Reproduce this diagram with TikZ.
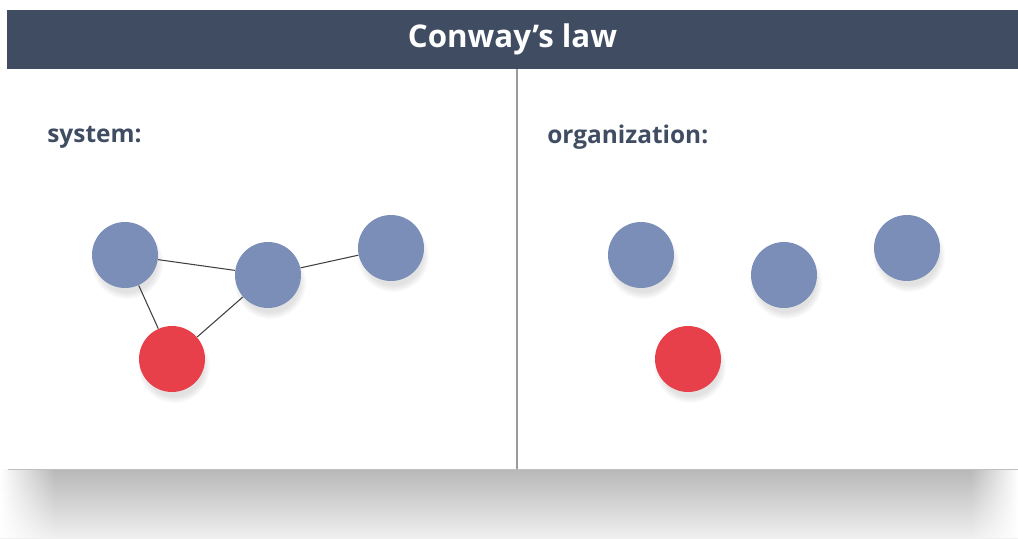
\documentclass[tikz,border=0pt]{standalone}
\usepackage{fontspec}
\setsansfont{Open Sans}
\usetikzlibrary{shadows,fadings}
\definecolor{slate}{HTML}{404C62}
\definecolor{nodeblue}{HTML}{7A8EB8}
\definecolor{nodered}{HTML}{E8404A}
\definecolor{divgray}{HTML}{9A9A9A}
\tikzfading[name=edgefadeL, left color=transparent!0, right color=transparent!100]
\tikzfading[name=edgefadeR, left color=transparent!100, right color=transparent!0]

\begin{document}
\begin{tikzpicture}[
    x=0.02cm, y=-0.02cm,
    banner/.style={fill=slate, text=white, font=\sffamily\bfseries\fontsize{17.8}{20}\selectfont, minimum width=20.22cm, minimum height=1.18cm, inner sep=0},
    heading/.style={text=slate, font=\sffamily\bfseries\fontsize{13.9}{16}\selectfont, anchor=west, inner sep=0},
    blob/.style={circle, inner sep=0, minimum size=1.32cm, fill=nodeblue,
        drop shadow={shadow xshift=1pt, shadow yshift=-4pt, opacity=.25, fill=black!45, path fading=circle with fuzzy edge 20 percent, shadow scale=1.1}},
    hotblob/.style={blob, fill=nodered},
    link/.style={draw=black!75, line width=0.6pt},
    divider/.style={draw=divgray, line width=0.8pt}
]
\useasboundingbox (0,0) rectangle (1018,538);
% floor shadow under the panel
\shade[top color=black!28, bottom color=black!6] (0,469) rectangle (1018,538);
\fill[white, path fading=edgefadeL] (0,468) rectangle (55,538);
\fill[white, path fading=edgefadeR] (970,468) rectangle (1018,538);
\draw[black!25, line width=0.6pt] (8,469.5) -- (1018,469.5);
% header
\node[banner] (title) at (512.5,39.5) {Conway’s law};
\coordinate (splitbot) at (517,469);
\draw[divider] (title.south -| splitbot) -- (splitbot);
% system side
\node[heading] (syslabel) at (47,137) {system:};
\node[blob] (sysA) at (125,255) {};
\node[blob] (sysB) at (268,275) {};
\node[blob] (sysC) at (391,248) {};
\node[hotblob] (sysD) at (172,359) {};
\draw[link] (sysA) -- (sysB);
\draw[link] (sysB) -- (sysC);
\draw[link] (sysA) -- (sysD);
\draw[link] (sysB) -- (sysD);
% organization side
\node[heading] (orglabel) at (547,137) {organization:};
\node[blob] (orgA) at (641,255) {};
\node[blob] (orgB) at (784,275) {};
\node[blob] (orgC) at (907,248) {};
\node[hotblob] (orgD) at (688,359) {};
\end{tikzpicture}
\end{document}
